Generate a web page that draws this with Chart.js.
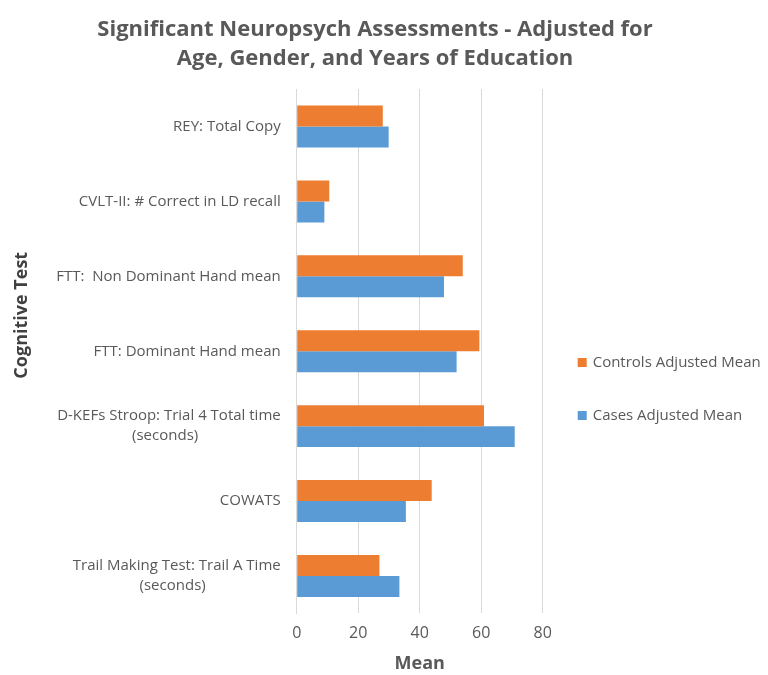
<!DOCTYPE html>
<html>
<head>
<meta charset="utf-8">
<script src="https://cdn.jsdelivr.net/npm/chart.js@4.4.1/dist/chart.umd.min.js"></script>
<style>
  html, body { margin: 0; padding: 0; background: #ffffff; }
  #wrap { width: 768px; height: 675px; position: relative; }
</style>
</head>
<body>
<div id="wrap"><canvas id="assessChart"></canvas></div>
<script>
// Cognitive tests, top to bottom; second lines padded so they sit centred under the first
const testLabels = [
  'REY: Total Copy',
  'CVLT-II: # Correct in LD recall',
  'FTT:  Non Dominant Hand mean',
  'FTT: Dominant Hand mean',
  ['D-KEFs Stroop: Trial 4 Total time', '(seconds)' + '\u2003'.repeat(5) + '\u2002'],
  'COWATS',
  ['Trail Making Test: Trail A Time', '(seconds)' + '\u2003'.repeat(5)]
];

const controlsMean = [28.0, 10.6, 54.0, 59.4, 60.9, 43.9, 26.9];
const casesMean = [29.9, 9.0, 47.9, 52.0, 70.9, 35.5, 33.4];

const xTicks = [0, 20, 40, 60, 80];

const textGray = '#595959';
const gridGray = '#d9d9d9';
const fontFamily = '"Open Sans", sans-serif';

// legend drawn by hand so it can sit in the right margin, stacked and widely spaced
const sideLegend = {
  id: 'sideLegend',
  afterDraw(chart, args, opts) {
    const { ctx, chartArea } = chart;
    ctx.save();
    ctx.font = `${opts.fontSize}px ${fontFamily}`;
    ctx.textBaseline = 'middle';
    ctx.textAlign = 'left';
    chart.data.datasets.forEach((ds, i) => {
      const x = chartArea.right + opts.offsetX;
      const y = opts.top + i * opts.spacing;
      ctx.fillStyle = ds.backgroundColor;
      ctx.fillRect(x, y - opts.box / 2, opts.box, opts.box);
      ctx.fillStyle = textGray;
      ctx.fillText(ds.label, x + opts.box + 6, y);
    });
    ctx.restore();
  }
};

const ctx = document.getElementById('assessChart');

new Chart(ctx, {
  type: 'bar',
  data: {
    labels: testLabels,
    datasets: [
      { label: 'Controls Adjusted Mean', data: controlsMean, backgroundColor: '#ed7d31' },
      { label: 'Cases Adjusted Mean', data: casesMean, backgroundColor: '#5b9bd5' }
    ]
  },
  plugins: [sideLegend],
  options: {
    indexAxis: 'y',
    responsive: true,
    maintainAspectRatio: false,
    animation: false,
    categoryPercentage: 0.56,
    barPercentage: 1.0,
    layout: {
      padding: { left: 0, right: 18, top: 0, bottom: 0 }
    },
    plugins: {
      title: {
        display: true,
        text: ['Significant Neuropsych Assessments - Adjusted for', 'Age, Gender, and Years of Education'],
        color: textGray,
        font: { family: fontFamily, size: 22, weight: 'bold', lineHeight: 1.32 },
        padding: { top: 15, bottom: 16 }
      },
      legend: { display: false },
      tooltip: { enabled: false },
      sideLegend: { offsetX: 35, top: 362.5, spacing: 53, box: 9, fontSize: 15 }
    },
    scales: {
      x: {
        min: 0,
        max: 80,
        afterBuildTicks(axis) {
          axis.ticks = xTicks.map((value) => ({ value }));
        },
        ticks: {
          color: textGray,
          font: { family: fontFamily, size: 16, lineHeight: 1 },
          padding: 12
        },
        grid: { color: gridGray, drawTicks: false },
        border: { display: false },
        title: {
          display: true,
          text: 'Mean',
          color: textGray,
          font: { family: fontFamily, size: 18, weight: 'bold' },
          padding: { top: 0, bottom: 0 }
        }
      },
      y: {
        afterFit(scale) {
          scale.width = 296.7;
        },
        ticks: {
          color: textGray,
          font: { family: fontFamily, size: 15, lineHeight: 1.33 },
          padding: 16
        },
        grid: { display: false, drawTicks: false },
        border: { display: true, color: gridGray },
        title: {
          display: true,
          text: '\u2003'.repeat(4) + 'Cognitive Test',
          color: '#404040',
          font: { family: fontFamily, size: 18, weight: 'bold' },
          padding: { top: 11, bottom: 0 }
        }
      },
      // empty axis on the right that only reserves room for the legend
      legendGap: {
        type: 'category',
        axis: 'y',
        position: 'right',
        display: true,
        afterFit(scale) {
          scale.width = 207.3;
        },
        ticks: { display: false },
        grid: { display: false, drawTicks: false },
        border: { display: false }
      }
    }
  }
});
</script>
</body>
</html>
